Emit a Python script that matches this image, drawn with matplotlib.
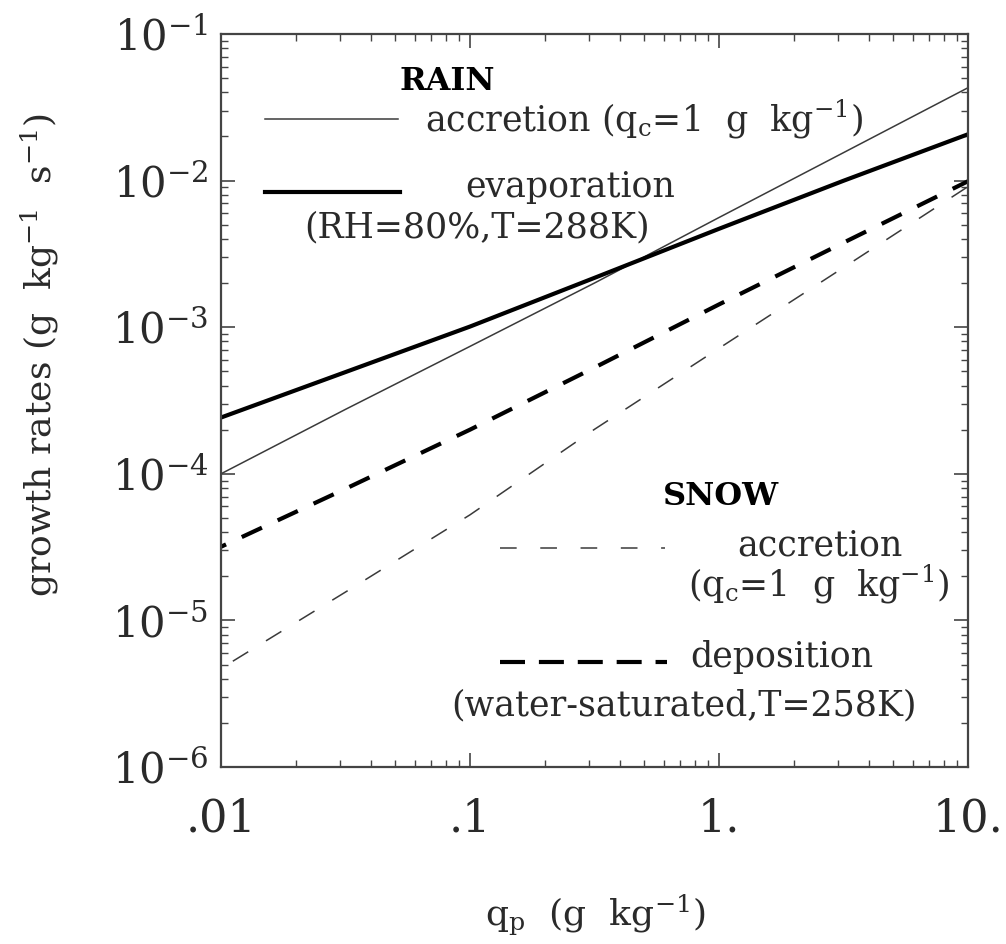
import matplotlib
matplotlib.use("Agg")
import matplotlib.pyplot as plt
from matplotlib.lines import Line2D
from matplotlib.ticker import FixedLocator, FixedFormatter, LogLocator, NullFormatter

# ---- data ----
qp = [0.01, 0.0316, 0.1, 0.316, 1.0, 3.16, 10.0]
rain_accretion = [1.0e-4, 2.75e-4, 7.4e-4, 2.0e-3, 5.6e-3, 1.55e-2, 4.3e-2]
rain_evaporation = [2.42e-4, 4.94e-4, 1.01e-3, 2.17e-3, 4.69e-3, 9.97e-3, 2.07e-2]
snow_accretion = [4.7e-6, 1.56e-5, 5.25e-5, 2.01e-4, 7.18e-4, 2.55e-3, 9.1e-3]
snow_deposition = [3.18e-5, 7.9e-5, 2.0e-4, 5.3e-4, 1.43e-3, 3.77e-3, 9.9e-3]

xticks = [0.01, 0.1, 1.0, 10.0]
xticklabels = [".01", ".1", "1.", "10."]
yticks = [1e-6, 1e-5, 1e-4, 1e-3, 1e-2, 1e-1]
yticklabels = [r"$10^{-6}$", r"$10^{-5}$", r"$10^{-4}$", r"$10^{-3}$", r"$10^{-2}$", r"$10^{-1}$"]

plt.rcParams["font.family"] = ["DejaVu Serif"]
plt.rcParams["mathtext.fontset"] = "dejavuserif"
plt.rcParams["lines.scale_dashes"] = False

W, H = 1006, 944
fig = plt.figure(figsize=(W / 100, H / 100), dpi=100)
L, R, T, B = 221, 968, 34, 767
ax = fig.add_axes([L / W, 1 - B / H, (R - L) / W, (B - T) / H])

TXT = "#2a2a2a"
thin_c = "#3a3a3a"

def fp(x, y):
    return (x / W, 1 - y / H)

ax.plot(qp, rain_accretion, color=thin_c, lw=1.1, solid_capstyle="butt")
ax.plot(qp, rain_evaporation, color="black", lw=3.0, solid_capstyle="butt")
ax.plot(qp, snow_accretion, color=thin_c, lw=1.1, linestyle=(18, (13, 15)))
ax.plot(qp, snow_deposition, color="black", lw=3.0, linestyle=(12, (16, 12.5)))

ax.set_xscale("log")
ax.set_yscale("log")
ax.set_xlim(0.01, 10)
ax.set_ylim(1e-6, 1e-1)

ax.xaxis.set_major_locator(FixedLocator(xticks))
ax.xaxis.set_major_formatter(FixedFormatter(xticklabels))
ax.yaxis.set_major_locator(FixedLocator(yticks))
ax.yaxis.set_major_formatter(FixedFormatter(yticklabels))
ax.xaxis.set_minor_locator(LogLocator(base=10, subs=range(2, 10), numticks=20))
ax.yaxis.set_minor_locator(LogLocator(base=10, subs=range(2, 10), numticks=20))
ax.xaxis.set_minor_formatter(NullFormatter())
ax.yaxis.set_minor_formatter(NullFormatter())

ax.tick_params(which="both", direction="in", top=True, right=True, colors="#444444")
ax.tick_params(which="major", length=10, width=1.2)
ax.tick_params(which="minor", length=5, width=1.0)
ax.tick_params(axis="x", which="major", pad=22, labelsize=32, labelcolor=TXT)
ax.tick_params(axis="y", which="major", pad=9, labelsize=30, labelcolor=TXT)
for s in ax.spines.values():
    s.set_color("#444444")
    s.set_linewidth(1.6)

ax.set_xlabel(r"q$_\mathregular{p}$  (g  kg$^{-1}$)", fontsize=26, color=TXT)
ax.xaxis.set_label_coords((595 - L) / (R - L), -(915 - B) / (B - T))
ax.xaxis.label.set_verticalalignment("center")
ax.set_ylabel(r"growth rates (g  kg$^{-1}$  s$^{-1}$)", fontsize=26, color=TXT)
ax.yaxis.set_label_coords(-(L - 40) / (R - L), (B - 355) / (B - T))
ax.yaxis.label.set_verticalalignment("center")

# ---- in-plot legend ----
def legline(x0, x1, y, **kw):
    a, b = fp(x0, y)
    c, _ = fp(x1, y)
    fig.add_artist(Line2D([a, c], [b, b], transform=fig.transFigure, **kw))

def txt(x, y, s, ha="left", **kw):
    fig.text(*fp(x, y), s, ha=ha, va="center", **kw)

FS = 25
txt(447, 82, "RAIN", ha="center", fontsize=23, fontweight="bold", color="black")
legline(265, 398, 119, color=thin_c, lw=1.1)
txt(425, 119, r"accretion (q$_\mathregular{c}$=1  g  kg$^{-1}$)", fontsize=FS, color=TXT)
legline(265, 400, 192, color="black", lw=3.0)
txt(570, 187, "evaporation", ha="center", fontsize=FS, color=TXT)
txt(477, 227, "(RH=80%,T=288K)", ha="center", fontsize=FS, color=TXT)

txt(721, 496, "SNOW", ha="center", fontsize=23, fontweight="bold", color="black")
legline(500, 665, 548, color=thin_c, lw=1.1, linestyle=(0, (12, 17)))
txt(820, 546, "accretion", ha="center", fontsize=FS, color=TXT)
txt(819, 584, r"(q$_\mathregular{c}$=1  g  kg$^{-1}$)", ha="center", fontsize=FS, color=TXT)
legline(500, 667, 662, color="black", lw=3.0, linestyle=(0, (18, 10)))
txt(782, 657, "deposition", ha="center", fontsize=FS, color=TXT)
txt(684, 705, "(water-saturated,T=258K)", ha="center", fontsize=FS, color=TXT)

fig.savefig("out.png", dpi=100, facecolor="white")
